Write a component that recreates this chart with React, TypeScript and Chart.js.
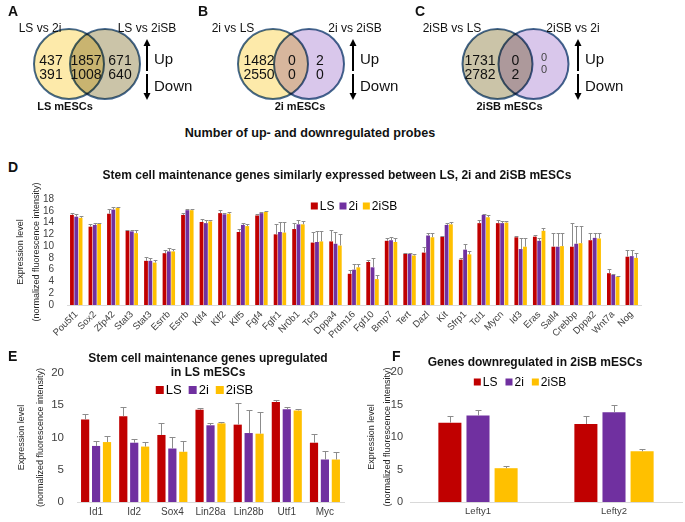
import React, { useEffect, useRef } from "react";
import { Chart, registerables } from "chart.js";

Chart.register(...registerables);

const SANS = '"Liberation Sans", Arial, sans-serif';
const NARROW = '"Liberation Sans Narrow", "Liberation Sans", Arial, sans-serif';

// ---------- data ----------
const seriesNames = ["LS", "2i", "2iSB"];
const seriesColors = ["#C00000", "#7030A0", "#FFC000"];
const errorColor = "#8c8c8c";

// Panel D
const dGenes = ["Pou5f1", "Sox2", "Zfp42", "Stat3", "Stat3", "Esrrb", "Esrrb", "Klf4", "Klf2", "Klf5", "Fgf4", "Fgfr1", "Nr0b1", "Tcf3", "Dppa4", "Prdm16", "Fgf10", "Bmp7", "Tert", "Dazl", "Kit", "Sfrp1", "Tcl1", "Mycn", "Id3", "Eras", "Sall4", "Crebbp", "Dppa2", "Wnt7a", "Nog"];
const dLS = [15.3, 13.3, 15.5, 12.6, 7.5, 8.8, 15.3, 14.1, 15.6, 12.4, 15.2, 12.0, 12.9, 10.6, 10.8, 5.3, 7.3, 10.9, 8.7, 8.9, 11.6, 7.7, 13.9, 13.9, 11.5, 11.6, 9.9, 9.9, 11.0, 5.4, 8.2];
const d2i = [15.0, 13.6, 16.2, 12.5, 7.5, 9.1, 16.1, 13.9, 15.4, 13.6, 15.6, 12.4, 13.7, 10.7, 10.4, 6.0, 6.4, 11.0, 8.7, 11.8, 13.6, 9.4, 15.3, 13.9, 9.5, 10.9, 9.9, 10.4, 11.4, 5.1, 8.3];
const d2iSB = [14.8, 13.8, 16.5, 12.2, 7.2, 9.1, 16.1, 14.2, 15.5, 13.4, 15.8, 12.3, 13.7, 10.8, 10.1, 6.4, 4.4, 10.7, 8.4, 11.5, 13.7, 8.6, 14.9, 14.0, 9.9, 12.6, 10.0, 10.5, 11.3, 4.8, 8.0];
const dLSErr = [0.3, 0.4, 0.8, 0.2, 0.6, 0.5, 0.4, 0.5, 0.6, 0.5, 0.2, 1.7, 1.1, 1.8, 2.0, 0.6, 0.3, 0.5, 0.2, 1.0, 0.2, 0.2, 0.6, 0.6, 0.2, 0.3, 2.3, 4.0, 1.2, 0.7, 1.2];
const d2iErr = [0.5, 0.3, 0.4, 0.3, 0.5, 0.5, 0.2, 0.5, 0.2, 0.4, 0.2, 1.7, 0.7, 1.8, 2.0, 0.9, 1.5, 0.5, 0.2, 0.4, 0.3, 1.0, 0.2, 0.3, 1.9, 0.5, 2.3, 3.1, 0.9, 0.2, 1.1];
const d2iSBErr = [0.3, 0.1, 0.2, 0.5, 0.4, 0.4, 0.2, 0.3, 0.3, 0.3, 0.2, 1.8, 0.5, 1.8, 2.0, 0.5, 0.7, 0.7, 0.2, 0.8, 0.4, 0.6, 0.3, 0.3, 1.5, 0.5, 2.2, 3.0, 0.9, 0.2, 0.9];

// Panel E
const eGenes = ["Id1", "Id2", "Sox4", "Lin28a", "Lin28b", "Utf1", "Myc"];
const eLS = [12.8, 13.3, 10.4, 14.3, 12.0, 15.5, 9.2];
const e2i = [8.7, 9.2, 8.3, 11.9, 10.7, 14.4, 6.6];
const e2iSB = [9.3, 8.6, 7.8, 12.2, 10.6, 14.2, 6.6];
const eLSErr = [0.9, 1.4, 1.8, 0.3, 3.4, 0.3, 1.4];
const e2iErr = [0.8, 0.5, 1.8, 0.3, 3.5, 0.4, 1.3];
const e2iSBErr = [0.9, 0.7, 1.6, 0.2, 3.4, 0.3, 1.2];

// Panel F
const fGenes = ["Lefty1", "Lefty2"];
const fLS = [12.2, 12.0];
const f2i = [13.3, 13.8];
const f2iSB = [5.2, 7.8];
const fLSErr = [1.1, 1.2];
const f2iErr = [0.8, 1.2];
const f2iSBErr = [0.3, 0.3];

// Venn panels A-C
const vennSets = [
  ["LS vs 2i", "LS vs 2iSB"],
  ["2i vs LS", "2i vs 2iSB"],
  ["2iSB vs LS", "2iSB vs 2i"],
];
const vennCells = ["LS mESCs", "2i mESCs", "2iSB mESCs"];
const vennUp = [
  [437, 1857, 671],
  [1482, 0, 2],
  [1731, 0, 0],
];
const vennDown = [
  [391, 1008, 640],
  [2550, 0, 0],
  [2782, 2, 0],
];

// ---------- layout (positions / styles) ----------
const vennMid = [87, 291, 515.5];
const vennCy = 64;
const vennHalf = 18;
const vennR = 35;
const vennFills = [
  ["#FDEAAA", "#CBC4A8"],
  ["#FDEAAA", "#D9C7EB"],
  ["#CBC4A8", "#D9C7EB"],
];
const vennSetLabelDx = [[-47, 60], [-58, 64], [-63.5, 57.5]];
const vennNumDx = [[-36, -1, 33], [-32, 1, 29], [-35.5, 0, 28.5]];
const vennArrowDx = [60, 62, 62.5];
const vennCellDx = [-22, 9, -6];

const errorBarPlugin = {
  id: "errorBars",
  afterDatasetsDraw(chart: any, _a: any, opts: any) {
    const { ctx } = chart;
    const yScale = chart.scales.y;
    chart.data.datasets.forEach((ds: any, di: number) => {
      const meta = chart.getDatasetMeta(di);
      if (!ds.errors) return;
      meta.data.forEach((bar: any, i: number) => {
        const v = ds.data[i];
        const yTop = Math.round(yScale.getPixelForValue(v + ds.errors[i])) + 0.5;
        const cap = Math.min(bar.width, opts.capMax);
        const x = Math.round(bar.x) + 0.5;
        ctx.save();
        ctx.strokeStyle = errorColor;
        ctx.lineWidth = 1;
        ctx.beginPath();
        ctx.moveTo(x, bar.y);
        ctx.lineTo(x, yTop);
        ctx.moveTo(x - cap / 2, yTop);
        ctx.lineTo(x + cap / 2, yTop);
        ctx.stroke();
        ctx.restore();
      });
    });
  },
};

const inlineLegendPlugin = {
  id: "inlineLegend",
  afterDraw(chart: any, _a: any, opts: any) {
    const { ctx, chartArea } = chart;
    ctx.save();
    ctx.font = `${opts.size}px ${SANS}`;
    const items = chart.data.datasets.map((ds: any) => ({ text: ds.label, color: ds.backgroundColor }));
    const widths = items.map((it: any) => opts.box + opts.gap + ctx.measureText(it.text).width);
    const total = widths.reduce((a: number, b: number) => a + b, 0) + opts.spacing * (items.length - 1);
    let x = (chartArea.left + chartArea.right) / 2 + opts.dx - total / 2;
    const y = chartArea.top + opts.dy;
    items.forEach((it: any, i: number) => {
      ctx.fillStyle = it.color;
      ctx.fillRect(x, y - opts.box / 2, opts.box, opts.box);
      ctx.fillStyle = "#000";
      ctx.textAlign = "left";
      ctx.textBaseline = "middle";
      ctx.fillText(it.text, x + opts.box + opts.gap, y + 0.5);
      x += widths[i] + opts.spacing;
    });
    ctx.restore();
  },
};

type Area = { left: number; right: number; top: number; bottom: number };
type BarProps = {
  left: number; top: number; width: number; height: number;
  labels: string[]; values: number[][]; errors: number[][];
  yMax: number; yStep: number; area: Area;
  tickFont: number; xFont: number; rotate: number; tickPad: number;
  titleFont: number; titleLine: number; titlePad: number;
  catPct: number; barPct: number; capMax: number;
  legend: { size: number; box: number; gap: number; spacing: number; dx: number; dy: number };
};

function BarPanel(p: BarProps) {
  const ref = useRef<HTMLCanvasElement>(null);
  useEffect(() => {
    const chart = new Chart(ref.current as HTMLCanvasElement, {
      type: "bar",
      data: {
        labels: p.labels,
        datasets: seriesNames.map((n, k) => ({
          label: n,
          data: p.values[k],
          errors: p.errors[k],
          backgroundColor: seriesColors[k],
          borderWidth: 0,
          categoryPercentage: p.catPct,
          barPercentage: p.barPct,
        })) as any,
      },
      options: {
        responsive: false,
        animation: false,
        devicePixelRatio: 1,
        events: [],
        layout: { autoPadding: false, padding: { left: 0, top: p.area.top, right: p.width - p.area.right, bottom: 0 } },
        plugins: {
          legend: { display: false },
          tooltip: { enabled: false },
          title: { display: false },
          errorBars: { capMax: p.capMax },
          inlineLegend: p.legend,
        } as any,
        scales: {
          x: {
            grid: { display: false, drawTicks: false },
            border: { display: true, color: "#d9d9d9" },
            ticks: {
              color: "#404040",
              font: { family: SANS, size: p.xFont },
              autoSkip: false,
              minRotation: p.rotate,
              maxRotation: p.rotate,
              padding: 4,
            },
            afterFit: (s: any) => { s.height = p.height - p.area.bottom; },
          },
          y: {
            min: 0,
            max: p.yMax,
            grid: { display: false, drawTicks: false },
            border: { display: false },
            ticks: { stepSize: p.yStep, autoSkip: false, color: "#404040", font: { family: SANS, size: p.tickFont }, padding: p.tickPad },
            title: {
              display: true,
              text: ["Expression level", "(normalized fluorescence intensity)"],
              color: "#262626",
              font: { family: SANS, size: p.titleFont, lineHeight: `${p.titleLine}px` },
              padding: { top: p.titlePad, bottom: 0 },
            },
            afterFit: (s: any) => { s.width = p.area.left; },
          },
        },
      } as any,
      plugins: [errorBarPlugin, inlineLegendPlugin],
    });
    return () => chart.destroy();
  }, []);
  return (
    <canvas ref={ref} width={p.width} height={p.height}
      style={{ position: "absolute", left: p.left, top: p.top, width: p.width, height: p.height }} />
  );
}

function drawArrow(ctx: CanvasRenderingContext2D, x: number, from: number, to: number) {
  const dir = to < from ? -1 : 1;
  ctx.beginPath();
  ctx.moveTo(x, from);
  ctx.lineTo(x, to - dir * 6);
  ctx.stroke();
  ctx.beginPath();
  ctx.moveTo(x, to);
  ctx.lineTo(x - 3.5, to - dir * 7);
  ctx.lineTo(x + 3.5, to - dir * 7);
  ctx.closePath();
  ctx.fill();
}

const vennPlugin = {
  id: "vennDecor",
  beforeDatasetsDraw(chart: any) {
    chart.ctx.save();
    chart.ctx.globalCompositeOperation = "multiply";
  },
  afterDatasetsDraw(chart: any) {
    const ctx = chart.ctx as CanvasRenderingContext2D;
    ctx.restore();
    const xs = chart.scales.x;
    const ys = chart.scales.y;
    const X = (v: number) => xs.getPixelForValue(v);
    const Y = (v: number) => ys.getPixelForValue(v);
    const text = (t: string, x: number, y: number, font: string, align: CanvasTextAlign = "center", color = "#111") => {
      ctx.font = font;
      ctx.fillStyle = color;
      ctx.textAlign = align;
      ctx.textBaseline = "middle";
      ctx.fillText(t, x, y);
    };
    ctx.save();
    vennMid.forEach((m, k) => {
      text(vennSets[k][0], X(m + vennSetLabelDx[k][0]), Y(29), `12px ${SANS}`);
      text(vennSets[k][1], X(m + vennSetLabelDx[k][1]), Y(29), `12px ${SANS}`);
      vennUp[k].forEach((v, j) => {
        const small = k === 2 && j === 2;
        const f = small ? `11px ${SANS}` : `14px ${SANS}`;
        text(String(v), X(m + vennNumDx[k][j]), Y(small ? 58 : 61), f, "center", small ? "#444" : "#111");
        text(String(vennDown[k][j]), X(m + vennNumDx[k][j]), Y(small ? 70 : 75), f, "center", small ? "#444" : "#111");
      });
      const ax = X(m + vennArrowDx[k]);
      ctx.strokeStyle = "#000";
      ctx.fillStyle = "#000";
      ctx.lineWidth = 2;
      drawArrow(ctx, ax, Y(71), Y(39));
      drawArrow(ctx, ax, Y(74), Y(100));
      text("Up", ax + 7, Y(60), `15px ${SANS}`, "left");
      text("Down", ax + 7, Y(87), `15px ${SANS}`, "left");
      text(vennCells[k], X(m + vennCellDx[k]), Y(107), `bold 11px ${NARROW}`);
    });
    ctx.restore();
  },
};

function VennChart() {
  const ref = useRef<HTMLCanvasElement>(null);
  useEffect(() => {
    const datasets: any[] = [];
    vennMid.forEach((m, k) => {
      [-1, 1].forEach((side, j) => {
        datasets.push({
          label: vennSets[k][j],
          data: [{ x: m + side * vennHalf, y: vennCy }],
          pointRadius: vennR,
          backgroundColor: vennFills[k][j],
          borderColor: "#45688F",
          borderWidth: 2,
          clip: false,
        });
      });
    });
    const chart = new Chart(ref.current as HTMLCanvasElement, {
      type: "scatter",
      data: { datasets },
      options: {
        responsive: false,
        animation: false,
        devicePixelRatio: 1,
        events: [],
        layout: { autoPadding: false, padding: 0 },
        plugins: { legend: { display: false }, tooltip: { enabled: false } },
        scales: {
          x: { type: "linear", min: 0, max: 685, display: false },
          y: { type: "linear", min: 0, max: 120, reverse: true, display: false },
        },
      } as any,
      plugins: [vennPlugin],
    });
    return () => chart.destroy();
  }, []);
  return <canvas ref={ref} width={685} height={120} style={{ position: "absolute", left: 0, top: 0, width: 685, height: 120 }} />;
}

function Txt(props: { x: number; y: number; text: string; size: number; bold?: boolean; center?: boolean; family?: string }) {
  const lh = Math.round(props.size * 1.25);
  const style: React.CSSProperties = {
    position: "absolute",
    top: props.y - lh / 2,
    lineHeight: `${lh}px`,
    fontSize: props.size,
    fontWeight: props.bold ? 700 : 400,
    fontFamily: props.family || SANS,
    whiteSpace: "nowrap",
    color: "#111",
  };
  if (props.center) {
    style.left = props.x - 300;
    style.width = 600;
    style.textAlign = "center";
  } else {
    style.left = props.x;
  }
  return <div style={style}>{props.text}</div>;
}

export default function App() {
  return (
    <div style={{ position: "absolute", left: 0, top: 0, width: 685, height: 522, background: "#fff", overflow: "hidden" }}>
      <VennChart />
      <BarPanel
        left={0} top={180} width={685} height={165}
        labels={dGenes} values={[dLS, d2i, d2iSB]} errors={[dLSErr, d2iErr, d2iSBErr]}
        yMax={18} yStep={2} area={{ left: 67, right: 641, top: 16, bottom: 125 }}
        tickFont={10} xFont={9.5} rotate={45} tickPad={13}
        titleFont={9} titleLine={16} titlePad={13}
        catPct={0.7} barPct={0.88} capMax={5}
        legend={{ size: 12, box: 7, gap: 2, spacing: 5, dx: 0, dy: 7 }}
      />
      <BarPanel
        left={0} top={340} width={345} height={182}
        labels={eGenes} values={[eLS, e2i, e2iSB]} errors={[eLSErr, e2iErr, e2iSBErr]}
        yMax={20} yStep={5} area={{ left: 77, right: 344, top: 33, bottom: 163 }}
        tickFont={11.5} xFont={10} rotate={0} tickPad={13}
        titleFont={9} titleLine={19} titlePad={12.5}
        catPct={0.86} barPct={0.75} capMax={6}
        legend={{ size: 13, box: 8, gap: 2, spacing: 7, dx: -6, dy: 17 }}
      />
      <BarPanel
        left={350} top={340} width={335} height={182}
        labels={fGenes} values={[fLS, f2i, f2iSB]} errors={[fLSErr, f2iErr, f2iSBErr]}
        yMax={20} yStep={5} area={{ left: 60, right: 332, top: 32, bottom: 162 }}
        tickFont={11} xFont={9.5} rotate={0} tickPad={7}
        titleFont={9} titleLine={16} titlePad={14}
        catPct={0.62} barPct={0.82} capMax={6}
        legend={{ size: 12, box: 7, gap: 2, spacing: 8, dx: -26, dy: 10 }}
      />
      <Txt x={8} y={11} text="A" size={14} bold />
      <Txt x={198} y={11} text="B" size={14} bold />
      <Txt x={415} y={11} text="C" size={14} bold />
      <Txt x={8} y={167} text="D" size={14} bold />
      <Txt x={8} y={356} text="E" size={14} bold />
      <Txt x={392} y={356} text="F" size={14} bold />
      <Txt x={310} y={133} text="Number of up- and downregulated probes" size={12.6} bold center family={NARROW} />
      <Txt x={337} y={175} text="Stem cell maintenance genes similarly expressed between LS, 2i and 2iSB mESCs" size={12} bold center />
      <Txt x={208} y={358} text="Stem cell maintenance genes upregulated" size={12} bold center />
      <Txt x={208} y={372} text="in LS mESCs" size={12} bold center />
      <Txt x={535} y={362} text="Genes downregulated in 2iSB mESCs" size={12} bold center />
    </div>
  );
}
